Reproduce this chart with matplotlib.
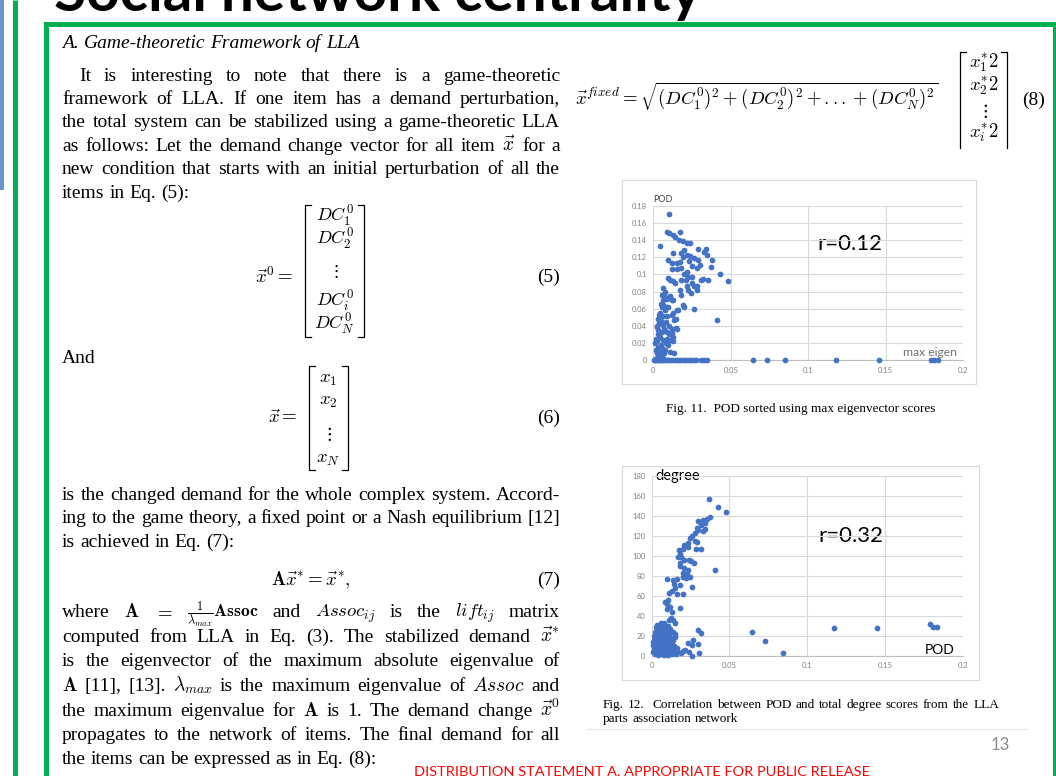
import matplotlib
matplotlib.use("Agg")
import matplotlib.pyplot as plt
from matplotlib.patches import Rectangle

W, H = 1056, 776

# ---- Fig. 11 data: (max eigen score, POD) ----
fig11_spread = [
    (0.0101, 0.170), (0.0086, 0.149), (0.0101, 0.148), (0.0172, 0.149),
    (0.0125, 0.146), (0.0140, 0.143), (0.0166, 0.140), (0.0190, 0.139),
    (0.0220, 0.137), (0.0237, 0.137), (0.0040, 0.133), (0.0290, 0.130),
    (0.0340, 0.130), (0.0325, 0.126), (0.0345, 0.123), (0.0129, 0.125),
    (0.0180, 0.125), (0.0200, 0.128), (0.0215, 0.123), (0.0235, 0.121),
    (0.0190, 0.120), (0.0097, 0.117), (0.0118, 0.113), (0.0150, 0.113),
    (0.0170, 0.115), (0.0155, 0.106), (0.0180, 0.108), (0.0265, 0.119),
    (0.0290, 0.117), (0.0300, 0.111), (0.0280, 0.108), (0.0376, 0.117),
    (0.0370, 0.109), (0.0230, 0.116), (0.0247, 0.110), (0.0215, 0.103),
    (0.0198, 0.100), (0.0120, 0.106), (0.0430, 0.100), (0.0226, 0.097),
    (0.0247, 0.097), (0.0210, 0.094), (0.0180, 0.093), (0.0480, 0.092),
    (0.0355, 0.094), (0.0320, 0.095), (0.0310, 0.093), (0.0097, 0.096),
    (0.0108, 0.093), (0.0125, 0.092), (0.0140, 0.090), (0.0260, 0.086),
    (0.0226, 0.082), (0.0240, 0.078), (0.0280, 0.086), (0.0285, 0.082),
    (0.0215, 0.086), (0.0172, 0.082), (0.0065, 0.084), (0.0250, 0.090),
    (0.0180, 0.076), (0.0190, 0.064), (0.0200, 0.062), (0.0265, 0.060),
    (0.0155, 0.059), (0.0160, 0.058), (0.0410, 0.047),
]
fig11_low = [
    (0.0075, 0.080), (0.0054, 0.076), (0.0075, 0.074), (0.0108, 0.075),
    (0.0086, 0.071), (0.0118, 0.070), (0.0065, 0.070), (0.0050, 0.066),
    (0.0058, 0.062), (0.0097, 0.062), (0.0130, 0.070), (0.0065, 0.064),
    (0.0082, 0.062), (0.0075, 0.058), (0.0129, 0.055), (0.0043, 0.055),
    (0.0039, 0.053), (0.0065, 0.051), (0.0086, 0.051), (0.0144, 0.048),
    (0.0136, 0.047), (0.0118, 0.053), (0.0033, 0.048), (0.0026, 0.040),
    (0.0043, 0.043), (0.0060, 0.041), (0.0022, 0.039), (0.0033, 0.035),
    (0.0028, 0.031), (0.0043, 0.0275), (0.0054, 0.033), (0.0071, 0.037),
    (0.0086, 0.033), (0.0101, 0.031), (0.0118, 0.037), (0.0144, 0.038),
    (0.0155, 0.036), (0.0065, 0.024), (0.0080, 0.020), (0.0108, 0.024),
    (0.0130, 0.027), (0.0125, 0.022), (0.0097, 0.018), (0.0118, 0.032),
    (0.0033, 0.016), (0.0015, 0.012), (0.0022, 0.008), (0.0043, 0.006),
    (0.0136, 0.008), (0.0037, 0.004), (0.0032, 0.014), (0.0054, 0.010),
    (0.0069, 0.008), (0.0022, 0.003), (0.0060, 0.003), (0.0010, 0.002),
    (0.0012, 0.020), (0.0018, 0.025), (0.0025, 0.022), (0.0048, 0.018),
    (0.0058, 0.014), (0.0075, 0.012), (0.0090, 0.025), (0.0105, 0.010),
    (0.0038, 0.044), (0.0052, 0.046), (0.0027, 0.010), (0.0046, 0.002),
    (0.0080, 0.045), (0.0100, 0.040),
]
# items whose POD is zero (max eigen score only)
fig11_zero_eigen = [0.0005, 0.0013, 0.0022, 0.0031, 0.0042, 0.0050, 0.0061,
                    0.0072, 0.0083, 0.0094, 0.0108, 0.0121, 0.0137, 0.0152,
                    0.0168, 0.0181, 0.0198, 0.0212, 0.0229, 0.0243, 0.0262,
                    0.0278, 0.0308, 0.0327, 0.0349, 0.0645, 0.0731, 0.0850,
                    0.1176, 0.1454, 0.1790, 0.1812, 0.1834]

# ---- Fig. 12 data: (POD, degree) ----
fig12_arm = [
    (0.0369, 157), (0.0424, 149), (0.0476, 144),
    (0.0375, 139), (0.0354, 137), (0.0330, 136), (0.0300, 135),
    (0.0340, 133), (0.0320, 131), (0.0290, 128), (0.0300, 126), (0.0340, 127), (0.0330, 125),
    (0.0280, 123), (0.0260, 120), (0.0246, 118), (0.0280, 115), (0.0236, 113), (0.0290, 114),
    (0.0210, 111), (0.0231, 109), (0.0200, 107), (0.0285, 107), (0.0320, 107),
    (0.0174, 106), (0.0180, 102), (0.0167, 99), (0.0190, 99), (0.0208, 96), (0.0180, 93),
    (0.0240, 96), (0.0270, 93), (0.0255, 95), (0.0407, 86),
    (0.0180, 90), (0.0210, 88), (0.0236, 86), (0.0204, 83), (0.0230, 82), (0.0201, 79),
    (0.0220, 78), (0.0246, 79), (0.0096, 77), (0.0135, 76), (0.0165, 77), (0.0144, 72),
    (0.0180, 71), (0.0150, 68), (0.0260, 69), (0.0129, 65), (0.0114, 63), (0.0165, 62),
    (0.0200, 62), (0.0107, 56), (0.0086, 54), (0.0096, 52), (0.0118, 49), (0.0180, 48),
    (0.0100, 47), (0.0130, 44), (0.0060, 33), (0.0080, 33), (0.0110, 36), (0.0140, 36),
    (0.0150, 33), (0.0125, 38),
]
fig12_tail = [
    (0.0300, 26), (0.0320, 23), (0.0268, 16), (0.0236, 13), (0.0258, 11), (0.0300, 12),
    (0.0215, 6), (0.0240, 4), (0.0307, 3), (0.0258, 0), (0.0170, 4), (0.0190, 3),
    (0.0160, 8), (0.0200, 5), (0.0647, 24), (0.0729, 15), (0.0847, 3), (0.1170, 28),
    (0.1450, 28), (0.1790, 32), (0.1807, 29), (0.1837, 29),
]
fig12_cluster = [
    (0.0021, 24), (0.0043, 26), (0.0062, 27), (0.0079, 25), (0.0101, 26), (0.0118, 24),
    (0.0031, 20), (0.0052, 21), (0.0069, 19), (0.0092, 22), (0.0111, 20), (0.0128, 18),
    (0.0148, 19), (0.0014, 16), (0.0036, 15), (0.0057, 17), (0.0076, 14), (0.0094, 16),
    (0.0116, 14), (0.0133, 12), (0.0011, 11), (0.0026, 10), (0.0046, 12), (0.0064, 9),
    (0.0087, 10), (0.0104, 8), (0.0124, 9), (0.0143, 6), (0.0016, 6), (0.0034, 5),
    (0.0056, 6), (0.0074, 4), (0.0096, 5), (0.0114, 3), (0.0019, 2), (0.0041, 1),
    (0.0061, 2), (0.0082, 1), (0.0102, 1), (0.0131, 2), (0.0029, 8), (0.0051, 3),
    (0.0071, 7), (0.0089, 12), (0.0109, 17), (0.0026, 29), (0.0066, 22), (0.0106, 30),
    (0.0139, 24), (0.0048, 18), (0.0085, 20), (0.0122, 14),
    (0.0008, 4), (0.0012, 8), (0.0018, 13), (0.0024, 18), (0.0033, 23), (0.0039, 11),
    (0.0044, 7), (0.0049, 15), (0.0053, 25), (0.0058, 10), (0.0066, 14), (0.0072, 23),
    (0.0078, 9), (0.0084, 17), (0.0091, 3), (0.0098, 13), (0.0103, 21), (0.0108, 11),
    (0.0113, 7), (0.0119, 27), (0.0127, 5), (0.0136, 16), (0.0146, 10), (0.0152, 22),
    (0.0158, 2), (0.0035, 31), (0.0057, 29), (0.0081, 30), (0.0014, 20), (0.0007, 14),
]

fig11_xticks = [0, 0.05, 0.1, 0.15, 0.2]
fig11_xlabels = ["0", "0.05", "0.1", "0.15", "0.2"]
fig11_yticks = [0, 0.02, 0.04, 0.06, 0.08, 0.1, 0.12, 0.14, 0.16, 0.18]
fig11_ylabels = ["0", "0.02", "0.04", "0.06", "0.08", "0.1", "0.12", "0.14", "0.16", "0.18"]
fig12_xticks = fig11_xticks
fig12_xlabels = fig11_xlabels
fig12_yticks = [0, 20, 40, 60, 80, 100, 120, 140, 160, 180]
fig12_ylabels = [str(v) for v in fig12_yticks]

GREEN = "#00b050"
DOT = "#4472c4"
BODY = 14
MATH = 13.5

plt.rcParams["mathtext.fontset"] = "cm"
plt.rcParams["font.family"] = ["Liberation Serif", "DejaVu Serif"]

fig = plt.figure(figsize=(W / 100, H / 100), dpi=100)
page = fig.add_axes([0, 0, 1, 1])
page.set_xlim(0, W)
page.set_ylim(H, 0)
page.axis("off")
renderer = fig.canvas.get_renderer()


def measure(s, size, **kw):
    t = page.text(0, 0, s, fontsize=size, **kw)
    w = t.get_window_extent(renderer).width
    t.remove()
    return w


def put_line(s, y, x0=62, x1=560, size=BODY, justify=True, tokens=None, sizes=None, **kw):
    words = tokens if tokens is not None else s.split(" ")
    sizes = sizes or [size] * len(words)
    space = measure("a a", size, **kw) - measure("aa", size, **kw)
    widths = [measure(wd, sz, **kw) for wd, sz in zip(words, sizes)]
    # shrink a line that would not fit its column
    while justify and sum(widths) + 0.45 * space * (len(words) - 1) > x1 - x0:
        sizes = [sz * 0.985 for sz in sizes]
        space *= 0.985
        widths = [measure(wd, sz, **kw) for wd, sz in zip(words, sizes)]
    if justify and len(words) > 1:
        gap = (x1 - x0 - sum(widths)) / (len(words) - 1)
    else:
        gap = space
    x = x0
    for wd, w, sz in zip(words, widths, sizes):
        page.text(x, y, wd, fontsize=sz, va="baseline", ha="left", **kw)
        x += w + gap


def bracket(xl, xr, top, bot, tick=6, lw=0.9):
    page.plot([xl + tick, xl, xl, xl + tick], [top, top, bot, bot], color="black", lw=lw,
              solid_joinstyle="miter")
    page.plot([xr - tick, xr, xr, xr - tick], [top, top, bot, bot], color="black", lw=lw,
              solid_joinstyle="miter")


# ---- slide decoration ----
page.add_patch(Rectangle((0, 0), 4, 190, color="#6b93cc", lw=0))
page.plot([14.5, 14.5], [0, H], color=GREEN, lw=3.6, solid_capstyle="butt")
page.plot([46, 46, 1055], [H, 23.5, 23.5], color=GREEN, lw=3.6, solid_joinstyle="miter")
page.plot([1055, 1055], [23.5, H], color=GREEN, lw=3.6)

title = page.text(54, 11, "Social network centrality", fontsize=36, fontweight="bold",
                  family="Lato", va="baseline", ha="left", zorder=1)
tw = title.get_window_extent(renderer).width
title.set_fontsize(36 * 646 / tw)

# ---- left column text ----
put_line("A. Game-theoretic Framework of LLA", 48, justify=False, style="italic")

put_line("It is interesting to note that there is a game-theoretic", 81, x0=79)
put_line("framework of LLA. If one item has a demand perturbation,", 104)
put_line("the total system can be stabilized using a game-theoretic LLA", 127)
put_line(r"as follows: Let the demand change vector for all item $\vec{x}$ for a", 151)
put_line("new condition that starts with an initial perturbation of all the", 174)
put_line("items in Eq. (5):", 198, justify=False)

# Eq. (5)
page.text(293, 277, r"$\vec{x}^{0}=$", fontsize=MATH, ha="right", va="center")
bracket(305, 364, 205, 337)
for txt, yy in zip([r"$DC_1^0$", r"$DC_2^0$", r"$\vdots$", r"$DC_i^0$", r"$DC_N^0$"],
                   [216, 239, 272, 301, 324]):
    page.text(334.5, yy, txt, fontsize=MATH - 0.5, ha="center", va="center")
page.text(560, 277, "(5)", fontsize=BODY, ha="right", va="center")

put_line("And", 363, justify=False)

# Eq. (6)
page.text(298, 418, r"$\vec{x}=$", fontsize=MATH, ha="right", va="center")
bracket(309, 348, 366, 470)
for txt, yy in zip([r"$x_1$", r"$x_2$", r"$\vdots$", r"$x_N$"], [379, 402, 434, 460]):
    page.text(328.5, yy, txt, fontsize=MATH, ha="center", va="center")
page.text(560, 418, "(6)", fontsize=BODY, ha="right", va="center")

put_line("is the changed demand for the whole complex system. Accord-", 500)
put_line("ing to the game theory, a fixed point or a Nash equilibrium [12]", 523)
put_line("is achieved in Eq. (7):", 547, justify=False)

page.text(311, 580, r"$\mathbf{A}\vec{x}^{*}=\vec{x}^{*},$", fontsize=MATH, ha="center", va="center")
page.text(560, 580, "(7)", fontsize=BODY, ha="right", va="center")

put_line(None, 617, tokens=["where", r"$\mathbf{A}$", r"$=$",
                            r"$\frac{1}{\lambda_{max}}\mathbf{Assoc}$", "and",
                            r"$Assoc_{ij}$", "is", "the", r"$lift_{ij}$", "matrix"],
         sizes=[BODY, MATH, MATH, 12.5, BODY, MATH, BODY, BODY, MATH, BODY])
put_line(r"computed from LLA in Eq. (3). The stabilized demand $\vec{x}^{*}$", 642)
put_line("is the eigenvector of the maximum absolute eigenvalue of", 666)
put_line(r"$\mathbf{A}$ [11], [13]. $\lambda_{max}$ is the maximum eigenvalue of $Assoc$ and", 691)
put_line(r"the maximum eigenvalue for $\mathbf{A}$ is 1. The demand change $\vec{x}^{0}$", 716)
put_line("propagates to the network of items. The final demand for all", 740)
put_line("the items can be expressed as in Eq. (8):", 764, justify=False)

# ---- Eq. (8) ----
page.text(575, 97, r"$\vec{x}^{fixed}=\sqrt{(DC_1^0)^2+(DC_2^0)^2+...+(DC_N^0)^2}$",
          fontsize=MATH, ha="left", va="center")
page.plot([960, 960, 966], [148, 52, 52], color="black", lw=0.9)
page.plot([1007, 1007, 1001], [148, 52, 52], color="black", lw=0.9)
for txt, yy in zip([r"$x_1^{*}2$", r"$x_2^{*}2$", r"$\vdots$", r"$x_i^{*}2$"], [63, 86, 111, 133]):
    page.text(983.5, yy, txt, fontsize=MATH, ha="center", va="center")
page.text(1045, 100, "(8)", fontsize=BODY, ha="right", va="center")

# ---- chart boxes ----
page.add_patch(Rectangle((622, 180), 354, 204, fill=False, ec="#d9d9d9", lw=0.8))
page.add_patch(Rectangle((622, 466), 357, 214, fill=False, ec="#d9d9d9", lw=0.8))


def excel_axes(l, t, r, b, xmax, ymax, xt, xl, yt, yl):
    ax = fig.add_axes([l / W, 1 - b / H, (r - l) / W, (b - t) / H])
    ax.set_facecolor("none")
    ax.set_xlim(0, xmax)
    ax.set_ylim(0, ymax)
    ax.set_xticks(xt)
    ax.set_xticklabels(xl)
    ax.set_yticks(yt)
    ax.set_yticklabels(yl)
    ax.grid(True, color="#d9d9d9", lw=0.8)
    ax.set_axisbelow(True)
    for side in ["top", "right", "left"]:
        ax.spines[side].set_visible(False)
    ax.spines["bottom"].set_color("#bfbfbf")
    ax.spines["bottom"].set_linewidth(0.8)
    ax.tick_params(length=0, labelsize=5.5, labelcolor="#808080", pad=4.5)
    for lab in ax.get_xticklabels() + ax.get_yticklabels():
        lab.set_family("Lato")
    return ax


ax1 = excel_axes(653.3, 205.7, 963.3, 360.3, 0.2, 0.18,
                 fig11_xticks, fig11_xlabels, fig11_yticks, fig11_ylabels)
pts11 = fig11_spread + fig11_low + [(e, 0.0) for e in fig11_zero_eigen]
ax1.scatter([p[0] for p in pts11], [p[1] for p in pts11], s=17, color=DOT, lw=0,
            clip_on=False, zorder=3)

ax2 = excel_axes(651.7, 476, 962.7, 656, 0.2, 180,
                 fig12_xticks, fig12_xlabels, fig12_yticks, fig12_ylabels)
pts12 = fig12_arm + fig12_tail + fig12_cluster
ax2.scatter([p[0] for p in pts12], [p[1] for p in pts12], s=17, color=DOT, lw=0,
            clip_on=False, zorder=3)

# chart annotations
page.text(653, 199, "POD", fontsize=6.5, family="Lato", color="#404040", va="center")
page.text(957, 352, "max eigen", fontsize=8.7, family="Lato", color="#707070", ha="right", va="center")
page.text(850, 244, "r=0.12", fontsize=16, family="Lato", color="black", ha="center", va="center")
page.text(655, 476, "degree", fontsize=10.5, family="Lato", color="black", va="center")
page.text(955, 650, "POD", fontsize=10, family="Lato", color="black", ha="right", va="center")
page.text(851, 536, "r=0.32", fontsize=16, family="Lato", color="black", ha="center", va="center")

# captions
page.text(801, 409, "Fig. 11.  POD sorted using max eigenvector scores", fontsize=9.5,
          ha="center", va="center")
put_line("Fig. 12.  Correlation between POD and total degree scores from the LLA", 708,
         x0=603, x1=999, size=9.5)
put_line("parts association network", 722, x0=603, size=9.5, justify=False)

page.plot([587, 1027], [729, 729], color="#e6e6e6", lw=0.8)
page.text(1000, 745, "13", fontsize=12, family="Lato", color="#8c8c8c", ha="center", va="center")

red = page.text(414, 766, "DISTRIBUTION STATEMENT A. APPROPRIATE FOR PUBLIC RELEASE",
                fontsize=12, family="Lato", color="#ff0000", ha="left", va="top")
rw = red.get_window_extent(renderer).width
red.set_fontsize(12 * 453 / rw)

fig.savefig("out.png", dpi=100)
